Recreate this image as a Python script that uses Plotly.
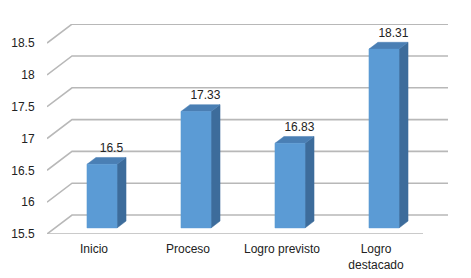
import plotly.graph_objects as go

categories = ["Inicio", "Proceso", "Logro previsto", "Logro<br>destacado"]
values = [16.5, 17.33, 16.83, 18.31]
value_labels = ["16.5", "17.33", "16.83", "18.31"]
y_ticks = [15.5, 16, 16.5, 17, 17.5, 18, 18.5]
y_tick_text = ["15.5", "16", "16.5", "17", "17.5", "18", "18.5"]

# oblique projection parameters (in data units)
BASE = 15.5
DDX, DDY = 0.266, 0.298      # full wall depth
D0, DB = 0.32, 0.36          # bar front depth fraction, bar depth fraction
BW = 0.32                    # bar width
XL, XR = -0.5, 3.5

FRONT = "#5b9bd5"
SIDE = "#3d6c9b"
TOP = "#4a7fb4"
GRID = "#b8b8b8"

fig = go.Figure()

# walls / gridlines
gx, gy = [], []
for t in y_ticks:
    gx += [XL, XL + DDX, XR + DDX, None]
    gy += [t, t + DDY, t + DDY, None]
gx += [XL, XR, None]
gy += [BASE, BASE, None]
fig.add_trace(go.Scatter(x=gx, y=gy, mode="lines", line=dict(color=GRID, width=1.6),
                         hoverinfo="skip", showlegend=False))

xs = list(range(len(values)))
ox, oy = D0 * DDX, D0 * DDY
bx, by = DB * DDX, DB * DDY

def poly(px, py, color):
    fig.add_trace(go.Scatter(
        x=px + [px[0]], y=py + [py[0]], fill="toself", fillcolor=color,
        mode="lines", line=dict(color=color, width=0.5),
        hoverinfo="skip", showlegend=False))

for i, v in enumerate(values):
    xl = i - BW / 2 + ox
    xr = i + BW / 2 + ox
    yb = BASE + oy
    yt = v + oy
    poly([xr, xr + bx, xr + bx, xr], [yb, yb + by, yt + by, yt], SIDE)
    poly([xl, xr, xr + bx, xl + bx], [yt, yt, yt + by, yt + by], TOP)
    poly([xl, xr, xr, xl], [yb, yb, yt, yt], FRONT)

# value labels
fig.add_trace(go.Scatter(
    x=[i + ox + 0.1 for i in xs], y=[v + oy + 0.24 for v in values],
    text=value_labels, mode="text",
    textfont=dict(family="Liberation Sans, Arial, sans-serif", size=12, color="#222"),
    hoverinfo="skip", showlegend=False))

# page body has an 8px margin, so the figure is offset by (8, 8)
fig.update_layout(
    width=463, height=270,
    margin=dict(l=39, r=23, t=16, b=44),
    paper_bgcolor="white", plot_bgcolor="white",
    font=dict(family="Liberation Sans, Arial, sans-serif", size=12, color="#222"),
    xaxis=dict(range=[XL, XR + DDX], tickvals=xs, ticktext=categories,
               showgrid=False, zeroline=False, showline=False, automargin=False,
               ticks="outside", ticklen=4, tickcolor="rgba(0,0,0,0)", fixedrange=True),
    yaxis=dict(range=[BASE, 18.8], tickvals=y_ticks, ticktext=y_tick_text,
               showgrid=False, zeroline=False, showline=False, automargin=False,
               ticks="outside", ticklen=9, tickcolor="rgba(0,0,0,0)", fixedrange=True),
)

fig.write_html("out.html")
